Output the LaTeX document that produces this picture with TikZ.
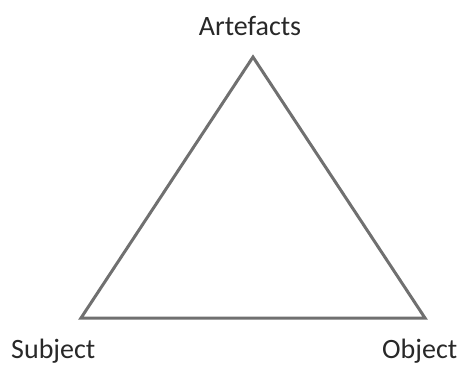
\documentclass[tikz,border=0pt]{standalone}
\usepackage{fontspec}
\setmainfont{Carlito}
\definecolor{edgegray}{RGB}{112,112,112}
\definecolor{textgray}{RGB}{40,40,40}
\begin{document}
\begin{tikzpicture}[x=1pt,y=-1pt,
  lbl/.style={inner sep=0pt,font=\fontsize{28}{30}\selectfont,text=textgray},
  tri/.style={draw=edgegray,line width=3pt,line join=miter}]
\useasboundingbox (0,0) rectangle (463,365);
\coordinate (top) at (253,57);
\coordinate (bl) at (81,318);
\coordinate (br) at (425,318);
\draw[tri] (top) -- (bl) -- (br) -- cycle;
\node[lbl,anchor=base] (art) at (250,35) {Artefacts};
\node[lbl,anchor=base west] (sub) at (11,358) {Subject};
\node[lbl,anchor=base west] (obj) at (382,358) {Object};
\end{tikzpicture}
\end{document}
